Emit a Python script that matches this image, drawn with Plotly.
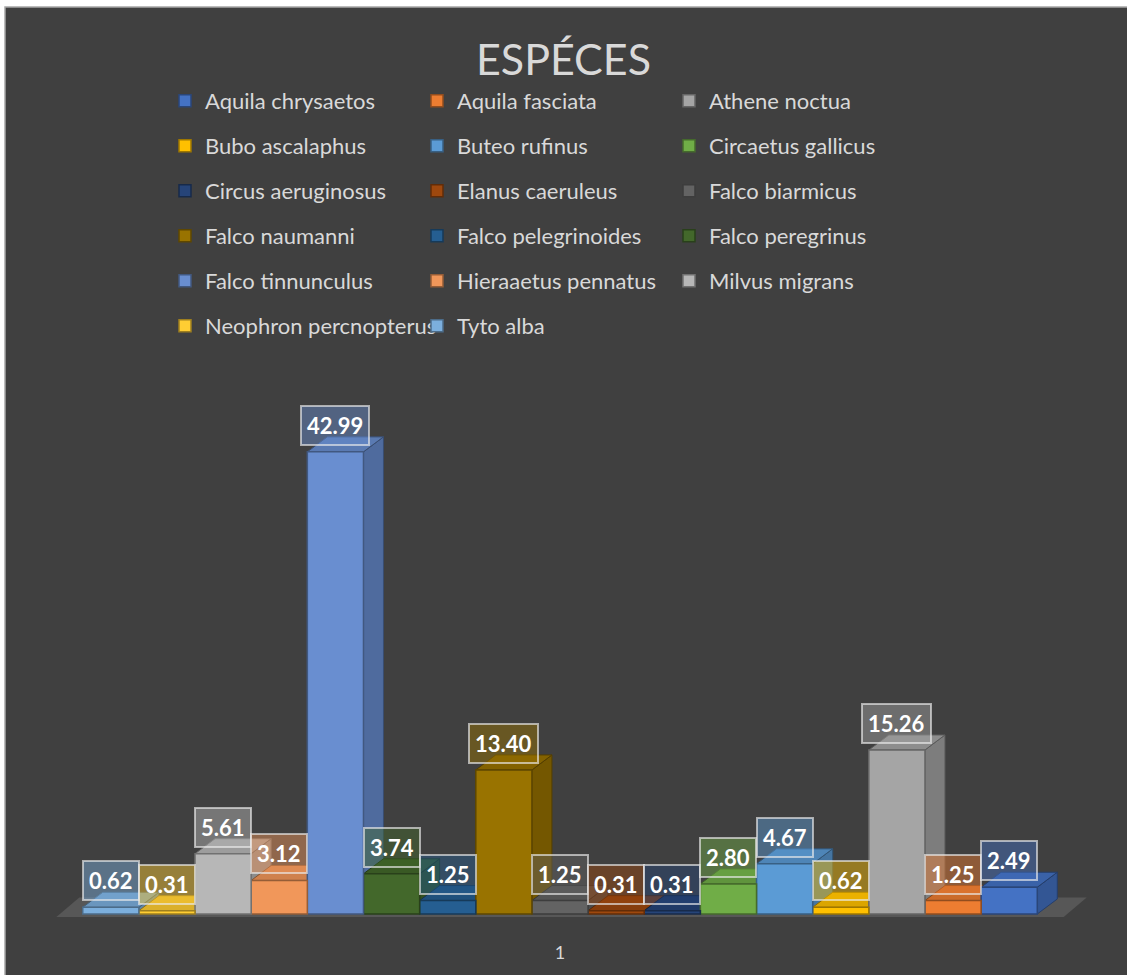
import plotly.graph_objects as go

# ---- data -------------------------------------------------------------
chart_title = "ESPÉCES"
category_label = "1"

species = [
    "Aquila chrysaetos", "Aquila fasciata", "Athene noctua",
    "Bubo ascalaphus", "Buteo rufinus", "Circaetus gallicus",
    "Circus aeruginosus", "Elanus caeruleus", "Falco biarmicus",
    "Falco naumanni", "Falco pelegrinoides", "Falco peregrinus",
    "Falco tinnunculus", "Hieraaetus pennatus", "Milvus migrans",
    "Neophron percnopterus", "Tyto alba",
]
values = [
    2.49, 1.25, 15.26,
    0.62, 4.67, 2.80,
    0.31, 0.31, 1.25,
    13.40, 1.25, 3.74,
    42.99, 3.12, 5.61,
    0.31, 0.62,
]
colors = [
    "#4472C4", "#ED7D31", "#A5A5A5",
    "#FFC000", "#5B9BD5", "#70AD47",
    "#264478", "#9E480E", "#636363",
    "#997300", "#255E91", "#43682B",
    "#698ED0", "#F1975A", "#B7B7B7",
    "#FFCD33", "#7CAFDD",
]

# ---- geometry ---------------------------------------------------------
W, H = 1127, 975
L, R, T, B = 55, 34, 400, 45
slot_px = 56.15          # width of one column slot
first_center_px = 110.8  # centre of the left-most column
baseline_px = 914        # pixel row of value 0
unit_px = 10.75          # pixels per percentage point
depth_px = (20, 15)      # oblique depth of the 3-D columns

plot_w = W - L - R
plot_h = H - T - B
x_lo = (L - first_center_px) / slot_px
x_hi = x_lo + plot_w / slot_px
y_hi = (baseline_px - T) / unit_px
y_lo = (baseline_px - (H - B)) / unit_px
ddx = depth_px[0] / slot_px
ddy = depth_px[1] / unit_px

BG = "#404040"
TXT = "#D9D9D9"
FONT = "Lato"


def shade(hex_color, f):
    h = hex_color.lstrip("#")
    r, g, b = (int(h[i:i + 2], 16) for i in (0, 2, 4))
    return "rgb({},{},{})".format(int(r * f), int(g * f), int(b * f))


def rgba(hex_color, a):
    h = hex_color.lstrip("#")
    r, g, b = (int(h[i:i + 2], 16) for i in (0, 2, 4))
    return "rgba({},{},{},{})".format(r, g, b, a)


def px_to_paper_x(px):
    return (px - L) / plot_w


def px_to_paper_y(py):
    return 1 - (py - T) / plot_h


n = len(species)
fig = go.Figure()

# columns: legend order runs right-to-left along the axis
for k, name in enumerate(species):
    pos = n - 1 - k
    row = k // 3
    fig.add_trace(go.Bar(
        x=[pos], y=[values[k]], width=1, name=name,
        marker=dict(color=colors[k],
                    line=dict(color=shade(colors[k], 0.62), width=1.5)),
        legend="legend" if row == 0 else "legend{}".format(row + 1),
        hovertemplate=name + ": %{y:.2f}<extra></extra>",
    ))

shapes = []
# chart frame
shapes.append(dict(
    type="rect", xref="paper", yref="paper", layer="below",
    x0=px_to_paper_x(5), y0=px_to_paper_y(7),
    x1=px_to_paper_x(1140), y1=px_to_paper_y(995),
    fillcolor=BG, line=dict(color="#A6A6A6", width=1.5),
))

# floor of the 3-D plot
fl_front_y = -0.28
fl_left = -0.5 - 0.47
fl_right = n - 0.5 + 0.47
fl_dx, fl_dy = ddx * 1.15, ddy * 1.3
shapes.append(dict(
    type="path", xref="x", yref="y", layer="below",
    path="M {a},{y} L {b},{y} L {c},{y2} L {d},{y2} Z".format(
        a=fl_left, b=fl_right, c=fl_right + fl_dx, d=fl_left + fl_dx,
        y=fl_front_y, y2=fl_front_y + fl_dy),
    fillcolor="#575757", line=dict(width=0),
))

# side and top faces, drawn left to right
order = sorted(range(n), key=lambda k: n - 1 - k)
for k in order:
    pos = n - 1 - k
    v = values[k]
    c = colors[k]
    xl, xr = pos - 0.5, pos + 0.5
    shapes.append(dict(
        type="path", xref="x", yref="y", layer="below",
        path="M {a},0 L {b},{e} L {b},{ve} L {a},{v} Z".format(
            a=xr, b=xr + ddx, e=ddy, ve=v + ddy, v=v),
        fillcolor=shade(c, 0.76), line=dict(color=shade(c, 0.55), width=1),
    ))
    shapes.append(dict(
        type="path", xref="x", yref="y", layer="below",
        path="M {a},{v} L {b},{v} L {c},{ve} L {d},{ve} Z".format(
            a=xl, b=xr, c=xr + ddx, d=xl + ddx, v=v, ve=v + ddy),
        fillcolor=shade(c, 0.86), line=dict(color=shade(c, 0.55), width=1),
    ))

# value labels
annotations = []
for k in order:
    pos = n - 1 - k
    v = values[k]
    annotations.append(dict(
        x=pos, y=v, xref="x", yref="y", yshift=26.5,
        text="<b>{:.2f}</b>".format(v), showarrow=False,
        xanchor="center", yanchor="middle",
        font=dict(family=FONT, size=22, color="#FFFFFF"),
        bgcolor=rgba(colors[k], 0.45),
        bordercolor="rgba(235,235,235,0.65)", borderwidth=2, borderpad=5,
    ))

# legend: three entries per row
legend_cfg = {}
for r in range(6):
    key = "legend" if r == 0 else "legend{}".format(r + 1)
    legend_cfg[key] = dict(
        orientation="h", xref="container", yref="container",
        x=(205 - 40) / W, y=1 - (101 + 45 * r) / H,
        xanchor="left", yanchor="middle",
        entrywidth=207, entrywidthmode="pixels",
        font=dict(family=FONT, size=22, color=TXT),
        bgcolor="rgba(0,0,0,0)", traceorder="normal",
    )

fig.update_layout(
    width=W, height=H,
    margin=dict(l=L, r=R, t=T, b=B, autoexpand=False),
    paper_bgcolor="#FFFFFF", plot_bgcolor="rgba(0,0,0,0)",
    title=dict(text=chart_title, x=0.5, xref="container", xanchor="center",
               y=1 - 60 / H, yref="container", yanchor="middle",
               font=dict(family=FONT, size=43, color=TXT)),
    showlegend=True,
    barmode="overlay",
    shapes=shapes,
    annotations=annotations,
    xaxis=dict(range=[x_lo, x_hi], showgrid=False, zeroline=False,
               showline=False, tickmode="array", tickvals=[(n - 1) / 2],
               ticktext=[category_label], ticks="", ticklabelstandoff=10,
               tickfont=dict(family=FONT, size=18, color=TXT),
               fixedrange=True),
    yaxis=dict(range=[y_lo, y_hi], visible=False, fixedrange=True),
    **legend_cfg,
)

fig.write_html("out.html")
